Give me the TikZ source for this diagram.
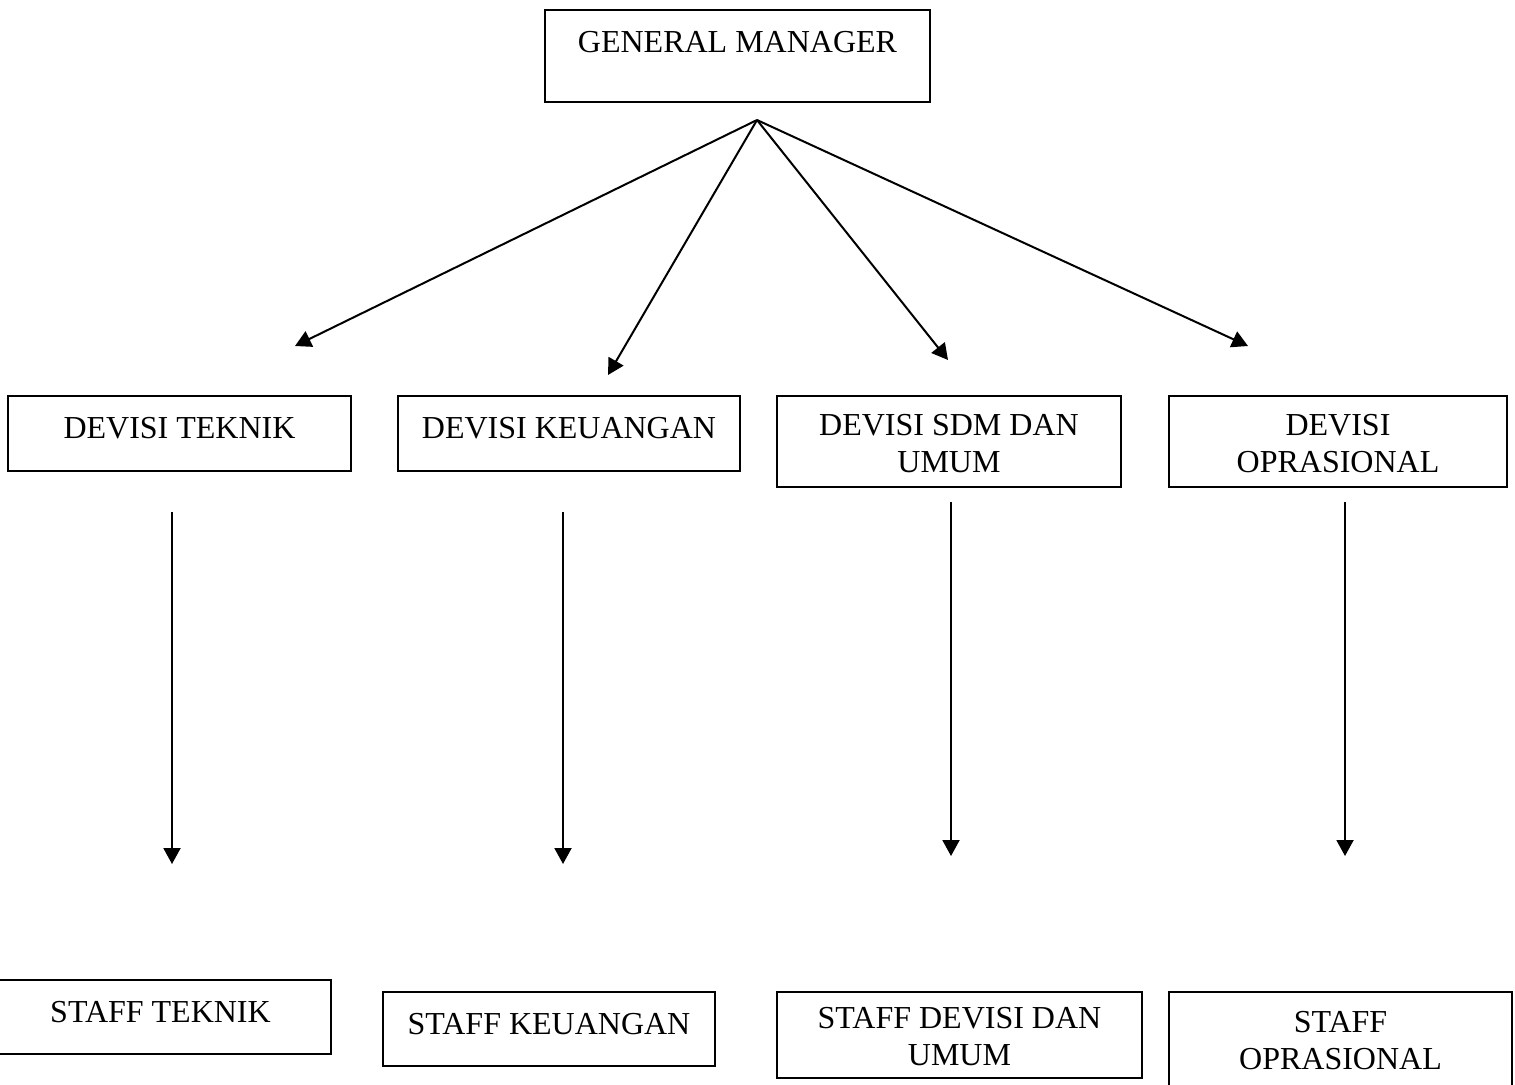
\documentclass[tikz,border=0pt]{standalone}
\usepackage{fontspec}
\setmainfont{Liberation Serif}
\usetikzlibrary{arrows.meta}
\tikzset{
  orgbox/.style={draw, line width=1pt, inner sep=0pt, align=center,
    font=\fontsize{16}{18.5}\selectfont},
  arr/.style={line width=1pt, -{Triangle[length=8pt,width=8.5pt]}}
}
\begin{document}
\begin{tikzpicture}[x=0.5pt,y=-0.5pt]
\useasboundingbox (0,0) rectangle (1515,1084);
% top
\node[orgbox, minimum width=192.5pt, text height=21pt, text depth=25pt] (gm) at (737.5,56) {GENERAL MANAGER};
% divisions
\node[orgbox, minimum width=171.5pt, text height=21pt, text depth=16.5pt] (dt) at (179.5,433.5) {DEVISI TEKNIK};
\node[orgbox, minimum width=171pt, text height=21pt, text depth=16.5pt] (dk) at (569,433.5) {DEVISI KEUANGAN};
\node[orgbox, minimum width=172pt, text height=38pt, text depth=7.5pt] (ds) at (949,441.5) {DEVISI SDM DAN\\UMUM};
\node[orgbox, minimum width=169pt, text height=38pt, text depth=7.5pt] (do) at (1338,441.5) {DEVISI\\OPRASIONAL};
% staff
\node[orgbox, minimum width=170.5pt, text height=21pt, text depth=16pt] (st) at (160.5,1017) {STAFF TEKNIK};
\node[orgbox, minimum width=166pt, text height=21pt, text depth=16pt] (sk) at (549,1029) {STAFF KEUANGAN};
\node[orgbox, minimum width=182.5pt, text height=36.5pt, text depth=6.5pt] (sd) at (959.5,1035) {STAFF DEVISI DAN\\UMUM};
\node[orgbox, minimum width=171.5pt, text height=38.5pt, text depth=13pt] (so) at (1340.5,1043.5) {STAFF\\OPRASIONAL};
% connector ends
\coordinate (hub) at (757,120);
\coordinate (dt-in) at (295,346);
\coordinate (dk-in) at (608,375);
\coordinate (ds-in) at (948,360);
\coordinate (do-in) at (1248,346);
\coordinate (dt-out) at (172,512);
\coordinate (dk-out) at (563,512);
\coordinate (ds-out) at (951,502);
\coordinate (do-out) at (1345,502);
\coordinate (st-in) at (172,864);
\coordinate (sk-in) at (563,864);
\coordinate (sd-in) at (951,856);
\coordinate (so-in) at (1345,856);
% connectors
\draw[arr] (hub) -- (dt-in);
\draw[arr] (hub) -- (dk-in);
\draw[arr] (hub) -- (ds-in);
\draw[arr] (hub) -- (do-in);
\draw[arr] (dt-out) -- (st-in);
\draw[arr] (dk-out) -- (sk-in);
\draw[arr] (ds-out) -- (sd-in);
\draw[arr] (do-out) -- (so-in);
\end{tikzpicture}
\end{document}
